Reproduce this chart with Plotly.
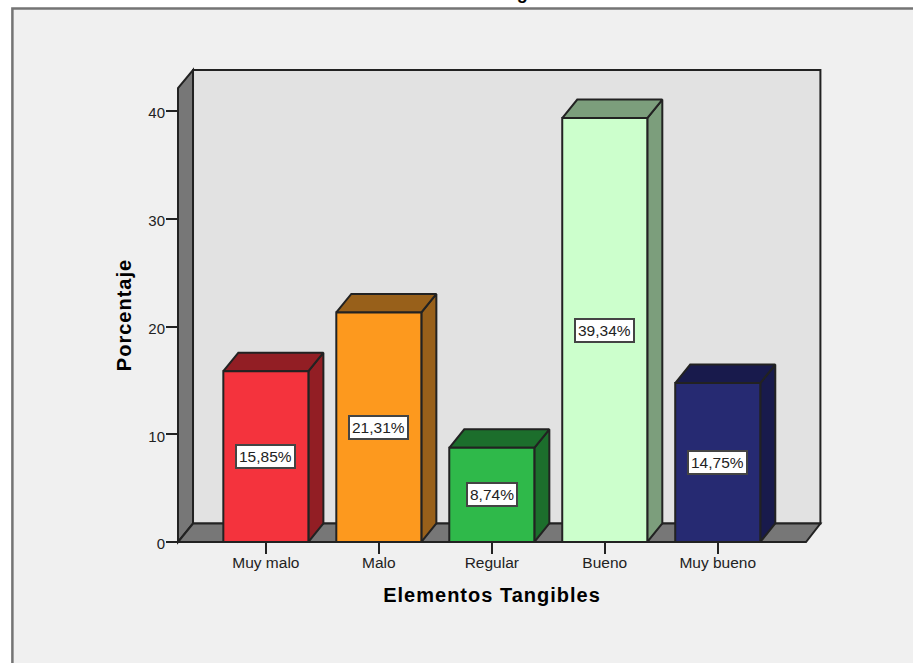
import plotly.graph_objects as go

categories = ["Muy malo", "Malo", "Regular", "Bueno", "Muy bueno"]
percentages = [15.85, 21.31, 8.74, 39.34, 14.75]
value_labels = ["15,85%", "21,31%", "8,74%", "39,34%", "14,75%"]
front_colors = ["#F4333D", "#FD991E", "#2FB94A", "#CCFFCC", "#262A72"]
side_colors = ["#921E24", "#98601A", "#1C6E2C", "#7C9E7C", "#181A4C"]
y_ticks = [0, 10, 20, 30, 40]

W, H = 913, 663
L, R, T, B = 178.0, 805.6, 88.0, 542.0
PX_PER_CAT = 112.9
PX_PER_PCT = 10.775
CENTER0 = 265.8
DX_PX, DY_PX = 15, 18.5
DX = DX_PX / PX_PER_CAT
DY = DY_PX / PX_PER_PCT
BAR_W = 85 / PX_PER_CAT
XMIN = (L - CENTER0) / PX_PER_CAT
XMAX = (R - CENTER0) / PX_PER_CAT
YMAX = (B - T) / PX_PER_PCT
EDGE = "#222222"
FONT = "Liberation Sans, Arial, sans-serif"


def px(x):
    return (x - L) / (R - L)


def py(y):
    return (B - y) / (B - T)


def path_shape(points, fill):
    d = "M " + " L ".join(f"{px(x):.5f},{py(y):.5f}" for x, y in points) + " Z"
    return dict(type="path", path=d, xref="paper", yref="paper", layer="below",
                fillcolor=fill, line=dict(color=EDGE, width=2))


fig = go.Figure()


def poly(xs, ys, fill, width=2):
    fig.add_trace(go.Scatter(
        x=xs + xs[:1], y=ys + ys[:1], mode="lines", fill="toself", fillcolor=fill,
        line=dict(color=EDGE, width=width), hoverinfo="skip", showlegend=False,
    ))


for i, (v, fc, sc) in enumerate(zip(percentages, front_colors, side_colors)):
    x0, x1 = i - BAR_W / 2, i + BAR_W / 2
    poly([x1, x1 + DX, x1 + DX, x1], [0, DY, v + DY, v], sc)
    poly([x0, x1, x1 + DX, x0 + DX], [v, v, v + DY, v + DY], sc)
    poly([x0, x1, x1, x0], [0, 0, v, v], fc)

annotations = [
    dict(x=i, y=v / 2, xref="x", yref="y", text=t, showarrow=False, height=17,
         font=dict(family=FONT, size=15.5, color="#222222"), bgcolor="#FFFFFF",
         bordercolor="#444444", borderwidth=2, borderpad=2)
    for i, (v, t) in enumerate(zip(percentages, value_labels))
]
# chart title cut off by the top of the picture: only the descender shows
annotations.append(dict(
    x=px(479), y=py(0), xref="paper", yref="paper", yanchor="bottom", yshift=-5,
    text="<b>Elementos Tangibles</b>", showarrow=False,
    font=dict(family=FONT, size=18, color="#000000"),
))

panel = dict(
    type="rect", xref="paper", yref="paper", layer="below",
    x0=px(12.5), x1=px(W + 20), y0=py(H + 20), y1=py(8.5),
    fillcolor="#F0F0F0", line=dict(color="#747474", width=2.5),
)
back_wall = path_shape([(193, B - DY_PX), (820, B - DY_PX), (820, 70), (193, 70)], "#E2E2E2")
left_wall = path_shape([(L, B), (193, B - DY_PX), (193, 70), (L, T)], "#777777")
floor = path_shape([(L, B), (R, B), (820, B - DY_PX), (193, B - DY_PX)], "#777777")

fig.update_layout(
    width=W, height=H,
    margin=dict(l=L, r=W - R, t=T, b=H - B, autoexpand=False),
    paper_bgcolor="#FFFFFF", plot_bgcolor="rgba(0,0,0,0)",
    font=dict(family=FONT, size=15, color="#222222"),
    showlegend=False,
    annotations=annotations,
    shapes=[panel, back_wall, left_wall, floor],
    xaxis=dict(
        range=[XMIN, XMAX], tickmode="array", tickvals=list(range(len(categories))),
        ticktext=categories, ticks="outside", ticklen=11, tickwidth=1.5, tickcolor=EDGE,
        ticklabelstandoff=-5,
        showgrid=False, zeroline=False, showline=False, automargin=False,
        tickfont=dict(family=FONT, size=15.5, color="#222222"),
        title=dict(text="<b>Elementos Tangibles</b>", standoff=18,
                   font=dict(family=FONT, size=20, color="#000000")),
    ),
    yaxis=dict(
        range=[0, YMAX], tickmode="array", tickvals=y_ticks,
        ticks="outside", ticklen=11, tickwidth=1.5, tickcolor=EDGE,
        ticklabelstandoff=-2,
        showgrid=False, zeroline=False, showline=False, automargin=False,
        tickfont=dict(family=FONT, size=15, color="#222222"),
        title=dict(text="<b>Porcentaje</b>", standoff=11,
                   font=dict(family=FONT, size=20, color="#000000")),
    ),
)

fig.write_html(
    "out.html",
    config={"displayModeBar": False},
    post_script=(
        "document.body.style.margin='0';"
        "document.documentElement.style.overflow='hidden';"
        "document.querySelectorAll('.xtitle,.ytitle').forEach(function(e){"
        "e.style.letterSpacing='1.0px';});"
        "document.querySelectorAll('.ytick text').forEach(function(e){"
        "e.setAttribute('dy','2');});"
    ),
)
